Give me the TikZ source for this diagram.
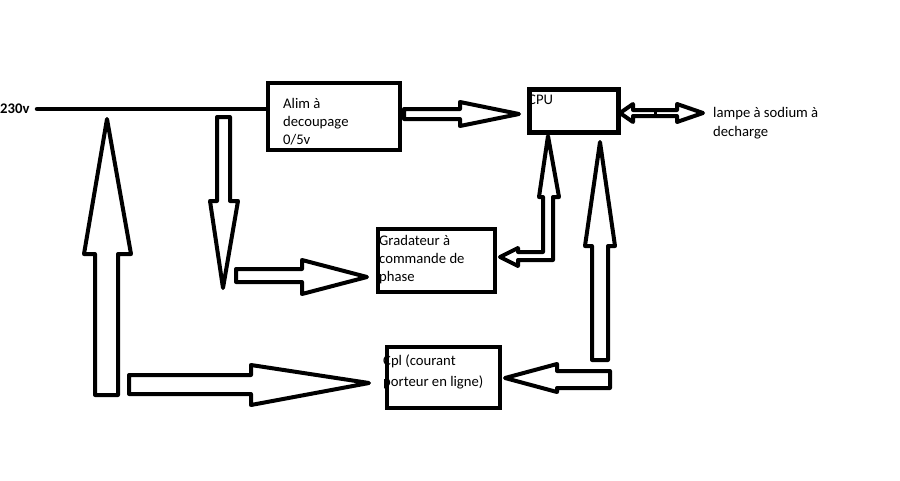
\documentclass[tikz,border=0pt]{standalone}
\usepackage{fontspec}
\setmainfont{Carlito}
\begin{document}
\begin{tikzpicture}[x=1pt,y=-1pt,
  box/.style={draw, line width=4.5pt, minimum width=#1, anchor=north west, inner sep=0pt},
  blk/.style={draw, line width=4pt, line join=round, fill=white},
  lbl/.style={anchor=base west, inner sep=0pt, font=\fontsize{14.67}{18}\selectfont, align=left}]
\useasboundingbox (0,0) rectangle (900,480);
% boxes
\node[box=132pt, minimum height=67pt] (alim) at (265.5,80.5) {};
\node[box=89pt, minimum height=43pt] (cpu) at (527,87) {};
\node[box=117pt, minimum height=63pt] (grad) at (375.5,226.5) {};
\node[box=113pt, minimum height=61pt] (cpl) at (384.5,344.5) {};
% texts (base anchor = baseline of the last line)
\node[lbl, font=\fontsize{14.67}{18}\selectfont\bfseries] (v230) at (0,113) {230v};
\node[lbl] (talim) at (283,144) {Alim à\\decoupage\\0/5v};
\node[lbl] (tcpu) at (528,104) {CPU};
\node[lbl] (tgrad) at (379,281) {Gradateur à\\commande de\\phase};
\node[lbl, font=\fontsize{14.67}{21}\selectfont] (tcpl) at (383,386) {Cpl (courant\\porteur en ligne)};
\node[lbl, font=\fontsize{14.67}{19}\selectfont] (tlamp) at (713,136) {lampe à sodium à\\decharge};
% mains line
\coordinate (in) at (37,109);
\draw[line width=4.5pt, line cap=round] (in) -- (in -| alim.west);
% Alim -> CPU
\draw[blk] (404,109) -- (460,109) -- (460,102) -- (519,114) -- (460,126) -- (460,119) -- (404,119) -- cycle;
% down arrow from mains
\draw[blk] (217,117) -- (230,117) -- (230,201) -- (238,201) -- (223,288) -- (210,201) -- (217,201) -- cycle;
% -> Gradateur
\draw[blk] (236,269) -- (302,269) -- (302,260) -- (367,277) -- (302,294) -- (302,282) -- (236,282) -- cycle;
% big up arrow
\draw[blk] (95,395) -- (95,254) -- (84,254) -- (107,119) -- (131,254) -- (118,254) -- (118,395) -- cycle;
% -> Cpl from left
\draw[blk] (129,375) -- (251,375) -- (251,365) -- (369,383) -- (251,405) -- (251,394) -- (129,394) -- cycle;
% CPU <-> Gradateur (L shaped)
\draw[blk] (548,136) -- (559,197) -- (553,197) -- (553,260) -- (518,260) -- (518,266) -- (500,257) -- (518,248) -- (518,252) -- (543,252) -- (543,197) -- (539,197) -- cycle;
% right up arrow to CPU
\draw[blk] (600,142) -- (615,246) -- (608,246) -- (608,360) -- (592,360) -- (592,246) -- (585,246) -- cycle;
% -> Cpl from right
\draw[blk] (610,371) -- (557,371) -- (557,364) -- (505,378) -- (557,392) -- (557,388) -- (610,388) -- cycle;
% CPU <-> lampe
\draw[blk] (620,113) -- (633,104) -- (633,110) -- (677,110) -- (677,104) -- (703,113) -- (677,122) -- (677,116) -- (633,116) -- (633,122) -- cycle;
\draw[line width=3pt] (655,110) -- (655,116);
\end{tikzpicture}
\end{document}
